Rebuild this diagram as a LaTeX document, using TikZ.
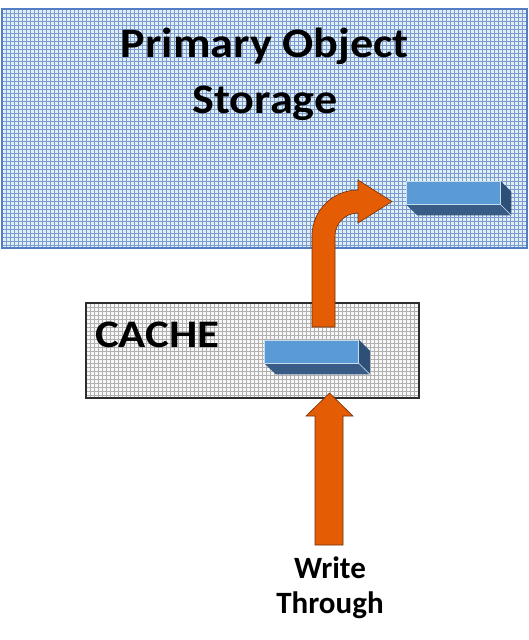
\documentclass[tikz,border=0pt]{standalone}
\usepackage{fontspec}
\setmainfont{Carlito}
\usepackage{xcolor}
\usepackage{tikz}
\usetikzlibrary{arrows.meta,positioning,calc}

\definecolor{storefill}{RGB}{222,238,244}
\definecolor{storegrid}{RGB}{122,156,206}
\definecolor{storeedge}{RGB}{84,126,196}
\definecolor{cachefill}{RGB}{248,248,248}
\definecolor{cachegrid}{RGB}{176,176,176}
\definecolor{cacheedge}{RGB}{45,45,45}
\definecolor{barlight}{RGB}{91,155,213}
\definecolor{bardark}{RGB}{56,92,134}
\definecolor{barside}{RGB}{46,80,120}
\definecolor{baredge}{RGB}{196,220,240}
\definecolor{arroworange}{RGB}{228,92,4}
\definecolor{arrowedge}{RGB}{110,48,12}

% one blue block: name, centre of its top face
\newcommand{\databar}[2]{%
  \node[barface] (#1) at (#2) {};
  \fill[bardark] (#1.south west) -- (#1.south east) -- ++(11,11) -- ++(-94,0) -- cycle;
  \fill[barside] (#1.north east) -- ++(11,11) -- ++(0,23) -- (#1.south east) -- cycle;
  \draw[baredge, line width=0.6pt] (#1.south east) -- ++(11,11);
  \node[barface] at (#1) {};
}

\begin{document}
\begin{tikzpicture}[
  x=1pt, y=-1pt,
  font=\bfseries,
  boxnode/.style={inner sep=0pt},
  barface/.style={fill=barlight, draw=baredge, line width=0.6pt,
    minimum width=94pt, minimum height=23pt, inner sep=0pt},
  blockarrow/.style={fill=arroworange, draw=arrowedge, line width=0.6pt},
]
\useasboundingbox (0,0) rectangle (529,640);

% Primary storage
\node[boxnode, fill=storefill, minimum width=525pt, minimum height=239pt] (storage) at (264.5,128.5) {};
\foreach \x in {6,10,...,526} {
  \draw[storegrid, line width=0.6pt] (\x,9) -- (\x,248);
}
\foreach \y in {13,17,...,247} {
  \draw[storegrid, line width=0.6pt] (2,\y) -- (527,\y);
}
\draw[storeedge, line width=2pt] (storage.north west) rectangle (storage.south east);
\node[xscale=1.1, align=center, font=\fontsize{42}{56}\selectfont\bfseries, anchor=base] (storetext) at (265,113) {Primary Object\\Storage};

% Cache
\node[boxnode, fill=cachefill, minimum width=333pt, minimum height=95pt] (cache) at (252.5,350.5) {};
\foreach \x in {90,94,...,418} {
  \draw[cachegrid, line width=0.6pt] (\x,303) -- (\x,398);
}
\foreach \y in {307,311,...,397} {
  \draw[cachegrid, line width=0.6pt] (86,\y) -- (419,\y);
}
\draw[cacheedge, line width=1.6pt] (cache.north west) rectangle (cache.south east);
\node[xscale=1.15, font=\fontsize{39}{44}\selectfont\bfseries, anchor=base west] (cachetext) at (91,347) {CACHE};

% Bent arrow, cache up to storage
\draw[blockarrow] (312,327) -- (312,236)
  .. controls (312,210.6) and (332.6,190) .. (358,190)
  -- (358,180) -- (392,201.5) -- (358,223) -- (358,213)
  .. controls (345.3,213) and (335,223.3) .. (335,236)
  -- (335,327) -- cycle;

% Blocks
\databar{storebar}{453,192.5}
\databar{cachebar}{311.5,351.5}

% Write arrow
\draw[blockarrow] (315,545) -- (315,416) -- (306,416) -- (329.5,393)
  -- (353,416) -- (343,416) -- (343,545) -- cycle;
\node[align=center, font=\fontsize{31}{35}\selectfont\bfseries, anchor=base] (writetext) at (330,613) {Write\\Through};
\end{tikzpicture}
\end{document}
